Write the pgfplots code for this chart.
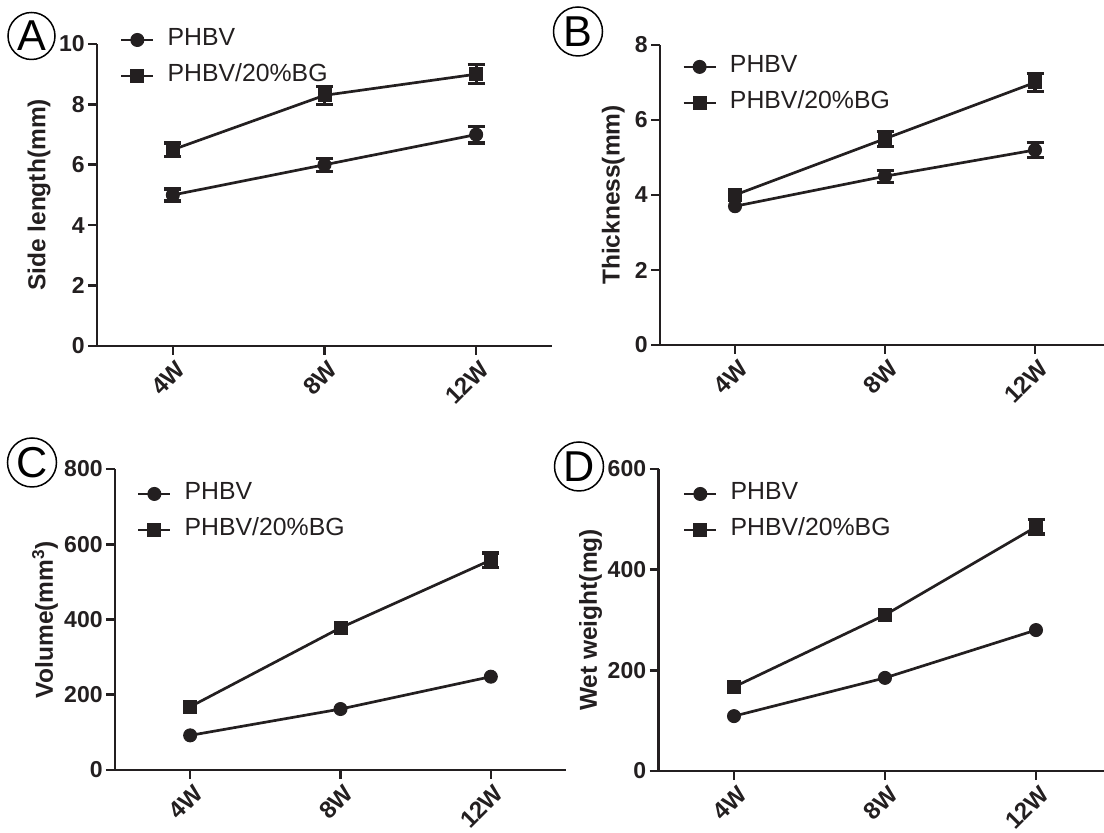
\documentclass[border=0pt]{standalone}
\usepackage{fontspec}
\setmainfont{Liberation Sans}
\usepackage{pgfplots}
\pgfplotsset{compat=1.18}
\definecolor{ink}{RGB}{35,31,32}

\pgfplotsset{
 panel/.style={
  scale only axis, anchor=south west,
  axis x line*=bottom, axis y line*=left,
  axis line style={line width=1.3pt, color=ink},
  every tick/.style={line width=1.3pt, color=ink},
  tick align=outside, major tick length=4.5pt,
  xmin=0.5, xmax=3.5, xtick={1,2,3}, xticklabels={4W,8W,12W},
  ymin=0,
  /pgf/number format/assume math mode=true,
  tick label style={font=\fontsize{11.5}{13}\selectfont\bfseries, color=ink},
  xticklabel style={font=\fontsize{12}{13}\selectfont\bfseries, rotate=45, anchor=east, inner sep=1pt, xshift=0.5pt, yshift=-6.5pt},
  yticklabel style={inner sep=1.5pt},
  ylabel style={font=\fontsize{12.25}{14}\selectfont\bfseries, color=ink, anchor=center},
  legend style={draw=none, fill=none, anchor=north west, font=\fontsize{12.4}{14}\selectfont, text=ink, inner sep=0pt, outer sep=0pt, row sep=6pt, column sep=6.5pt, nodes={inner sep=0pt, text height=9pt, text depth=3pt}},
  legend cell align=left,
  legend image code/.code={\draw[mark repeat=2, mark phase=2] plot coordinates {(0pt,0pt) (8pt,0pt) (16pt,0pt)};},
  clip=false,
 },
 ser/.style={color=ink, line width=1.35pt, mark size=3.25pt, mark options={solid, fill=ink, draw=ink, line width=0.5pt}},
 errs/.style={forget plot, only marks, mark=none, color=ink, error bars/.cd, y dir=both, y explicit, error mark=|, error bar style={line width=1.6pt, color=ink}, error mark options={line width=1.6pt, mark size=4.25pt, color=ink}},
}

\begin{document}
\begin{tikzpicture}
\path[use as bounding box] (0pt,0pt) rectangle (552pt,416.5pt);

% Panel A
\begin{axis}[panel, at={(48.5pt,243.5pt)}, width=227.5pt, height=151pt,
  ymax=10, ytick={0,2,4,6,8,10},
  ylabel={Side length(mm)}, ylabel style={at={(axis description cs:-0.1275,0.5)}},
  legend style={at={(axis description cs:0.0505,1.053)}}]
\addplot[errs] coordinates {(1,5.0) +- (0,0.2) (2,6.0) +- (0,0.22) (3,7.0) +- (0,0.28)};
\addplot[errs] coordinates {(1,6.5) +- (0,0.22) (2,8.3) +- (0,0.3) (3,9.0) +- (0,0.32)};
\addplot[ser, mark=*] coordinates {(1,5.0) (2,6.0) (3,7.0)};
\addplot[ser, mark=square*] coordinates {(1,6.5) (2,8.3) (3,9.0)};
\legend{PHBV, PHBV/20\%BG}
\end{axis}

% Panel B
\begin{axis}[panel, at={(330pt,244pt)}, width=225pt, height=150pt,
  ymax=8, ytick={0,2,4,6,8},
  ylabel={Thickness(mm)}, ylabel style={at={(axis description cs:-0.1036,0.5)}},
  legend style={at={(axis description cs:0.0495,0.967)}}]
\addplot[errs] coordinates {(2,4.5) +- (0,0.16) (3,5.2) +- (0,0.19)};
\addplot[errs] coordinates {(2,5.5) +- (0,0.2) (3,7.0) +- (0,0.24)};
\addplot[ser, mark=*] coordinates {(1,3.7) (2,4.5) (3,5.2)};
\addplot[ser, mark=square*] coordinates {(1,4.0) (2,5.5) (3,7.0)};
\legend{PHBV, PHBV/20\%BG}
\end{axis}

% Panel C
\begin{axis}[panel, at={(57.5pt,31.5pt)}, width=225.5pt, height=150.5pt,
  ymax=800, ytick={0,200,400,600,800},
  ylabel={Volume(mm\textsuperscript{3})}, ylabel style={at={(axis description cs:-0.155,0.5)}},
  legend style={at={(axis description cs:0.0488,0.957)}}]
\addplot[errs] coordinates {(3,558) +- (0,19)};
\addplot[ser, mark=*] coordinates {(1,92) (2,162) (3,248)};
\addplot[ser, mark=square*] coordinates {(1,168) (2,378) (3,558)};
\legend{PHBV, PHBV/20\%BG}
\end{axis}

% Panel D
\begin{axis}[panel, at={(329.25pt,31pt)}, width=226.5pt, height=151pt,
  ymax=600, ytick={0,200,400,600},
  ylabel={Wet weight(mg)}, ylabel style={at={(axis description cs:-0.150,0.5)}},
  legend style={at={(axis description cs:0.054,0.957)}}]
\addplot[errs] coordinates {(3,485) +- (0,14)};
\addplot[ser, mark=*] coordinates {(1,109) (2,185) (3,280)};
\addplot[ser, mark=square*] coordinates {(1,167) (2,310) (3,485)};
\legend{PHBV, PHBV/20\%BG}
\end{axis}

\node[draw=black, circle, line width=0.75pt, minimum size=23.5pt, inner sep=0pt, font=\fontsize{21.6}{22}\selectfont] at (15.75pt,398.5pt) {A};
\node[draw=black, circle, line width=0.75pt, minimum size=24.5pt, inner sep=0pt, font=\fontsize{21.6}{22}\selectfont] at (289pt,400.75pt) {B};
\node[draw=black, circle, line width=0.75pt, minimum size=24.5pt, inner sep=0pt, font=\fontsize{21.6}{22}\selectfont] at (16pt,185.25pt) {C};
\node[draw=black, circle, line width=0.75pt, minimum size=24.5pt, inner sep=0pt, font=\fontsize{21.6}{22}\selectfont] at (289.5pt,183.25pt) {D};
\end{tikzpicture}
\end{document}
